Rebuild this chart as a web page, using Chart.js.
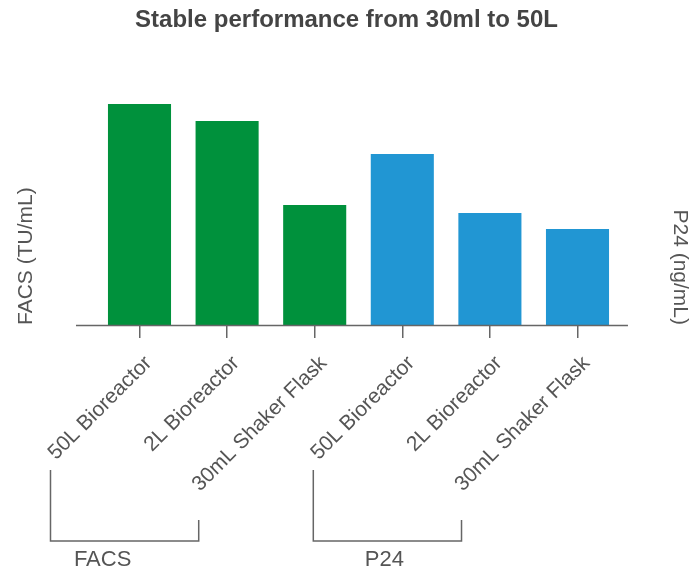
<!DOCTYPE html>
<html>
<head>
<meta charset="utf-8">
<script src="https://cdn.jsdelivr.net/npm/chart.js@4.4.1/dist/chart.umd.min.js"></script>
<style>
  html, body { margin: 0; padding: 0; background: #ffffff; }
  #wrap { width: 693px; height: 575px; }
</style>
</head>
<body>
<div id="wrap"><canvas id="c" width="693" height="575"></canvas></div>
<script>
// Production scales, grouped by assay
const categories = ['50L Bioreactor', '2L Bioreactor', '30mL Shaker Flask',
                    '50L Bioreactor', '2L Bioreactor', '30mL Shaker Flask'];
const facsValues = [2.21e8, 2.04e8, 1.20e8];   // TU/mL
const p24Values  = [1710, 1120, 960];          // ng/mL
const groupNames = ['FACS', 'P24'];
const groupSpans = [[0, 2], [3, 5]];           // first / last category index per group
const facsMax = 2.5e8;
const p24Max  = 2500;

const GREEN = '#00913c';
const BLUE  = '#2196d3';
const AXIS  = '#666666';
const TEXT  = '#555555';
const FONT  = "'Liberation Sans', Arial, Helvetica, sans-serif";

const facsData = categories.map((_, i) => (i < facsValues.length ? facsValues[i] : null));
const p24Data  = categories.map((_, i) => (i >= facsValues.length ? p24Values[i - facsValues.length] : null));

// Baseline and group brackets under the category labels
const groupBrackets = {
  id: 'groupBrackets',
  afterDatasetsDraw(chart, args, opts) {
    const xs = chart.scales.x;
    const ctx = chart.ctx;
    const base = chart.chartArea.bottom;
    const step = xs.getPixelForValue(1) - xs.getPixelForValue(0);
    ctx.save();
    ctx.strokeStyle = opts.color;
    ctx.lineWidth = opts.lineWidth;
    ctx.lineCap = 'butt';

    ctx.beginPath();
    ctx.moveTo(xs.getPixelForValue(0) - 0.725 * step, base + 0.5);
    ctx.lineTo(xs.getPixelForValue(categories.length - 1) + 0.576 * step, base + 0.5);
    ctx.stroke();

    groupSpans.forEach(([a, b], g) => {
      const left = xs.getPixelForValue(a) - 1.016 * step;
      const right = xs.getPixelForValue(b) - 1.324 * step;
      const yLow = base + 216;
      ctx.beginPath();
      ctx.moveTo(left, base + 145);
      ctx.lineTo(left, yLow);
      ctx.lineTo(right, yLow);
      ctx.lineTo(right, base + 195);
      ctx.stroke();

      ctx.fillStyle = opts.textColor;
      ctx.font = opts.font;
      ctx.textAlign = 'center';
      ctx.textBaseline = 'middle';
      ctx.fillText(groupNames[g], (left + right) / 2 + opts.labelShift[g], base + 235);
    });
    ctx.restore();
  }
};

new Chart(document.getElementById('c'), {
  type: 'bar',
  data: {
    labels: categories,
    datasets: [
      { label: 'FACS', data: facsData, backgroundColor: GREEN, yAxisID: 'yFacs', grouped: false },
      { label: 'P24',  data: p24Data,  backgroundColor: BLUE,  yAxisID: 'yP24',  grouped: false }
    ]
  },
  options: {
    responsive: false,
    devicePixelRatio: 1,
    animation: false,
    layout: { padding: 0 },
    categoryPercentage: 1,
    barPercentage: 0.72,
    plugins: {
      legend: { display: false },
      tooltip: { enabled: false },
      title: {
        display: true,
        text: 'Stable performance from 30ml to 50L',
        color: '#444444',
        font: { family: FONT, size: 24, weight: 'bold' },
        padding: { top: 6, bottom: 40.2 }
      },
      groupBrackets: {
        color: AXIS,
        lineWidth: 1.5,
        textColor: TEXT,
        font: "22px " + FONT,
        labelShift: [-22, -3]
      }
    },
    scales: {
      x: {
        offset: true,
        grid: { display: true, offset: false, drawOnChartArea: false, drawTicks: true,
                tickLength: 13, color: AXIS, lineWidth: 1.5 },
        border: { display: false },
        ticks: {
          color: TEXT,
          font: { family: FONT, size: 21 },
          minRotation: 45,
          maxRotation: 45,
          autoSkip: false,
          padding: 13,
          labelOffset: 9
        },
        afterFit(s) { s.height = 250; }
      },
      yFacs: {
        position: 'left',
        min: 0,
        max: facsMax,
        grid: { display: false },
        border: { display: false },
        ticks: { display: false },
        title: {
          display: true,
          text: 'FACS (TU/mL)',
          align: 'start',
          color: TEXT,
          font: { family: FONT, size: 21 },
          padding: { top: 14, bottom: 0 }
        },
        afterFit(s) { s.width = 95.7; }
      },
      yP24: {
        position: 'right',
        min: 0,
        max: p24Max,
        grid: { display: false },
        border: { display: false },
        ticks: { display: false },
        title: {
          display: true,
          text: 'P24 (ng/mL)',
          align: 'start',
          color: TEXT,
          font: { family: FONT, size: 21 },
          padding: { top: 1, bottom: 0 }
        },
        afterFit(s) { s.width = 71.7; }
      }
    }
  },
  plugins: [groupBrackets]
});
</script>
</body>
</html>
